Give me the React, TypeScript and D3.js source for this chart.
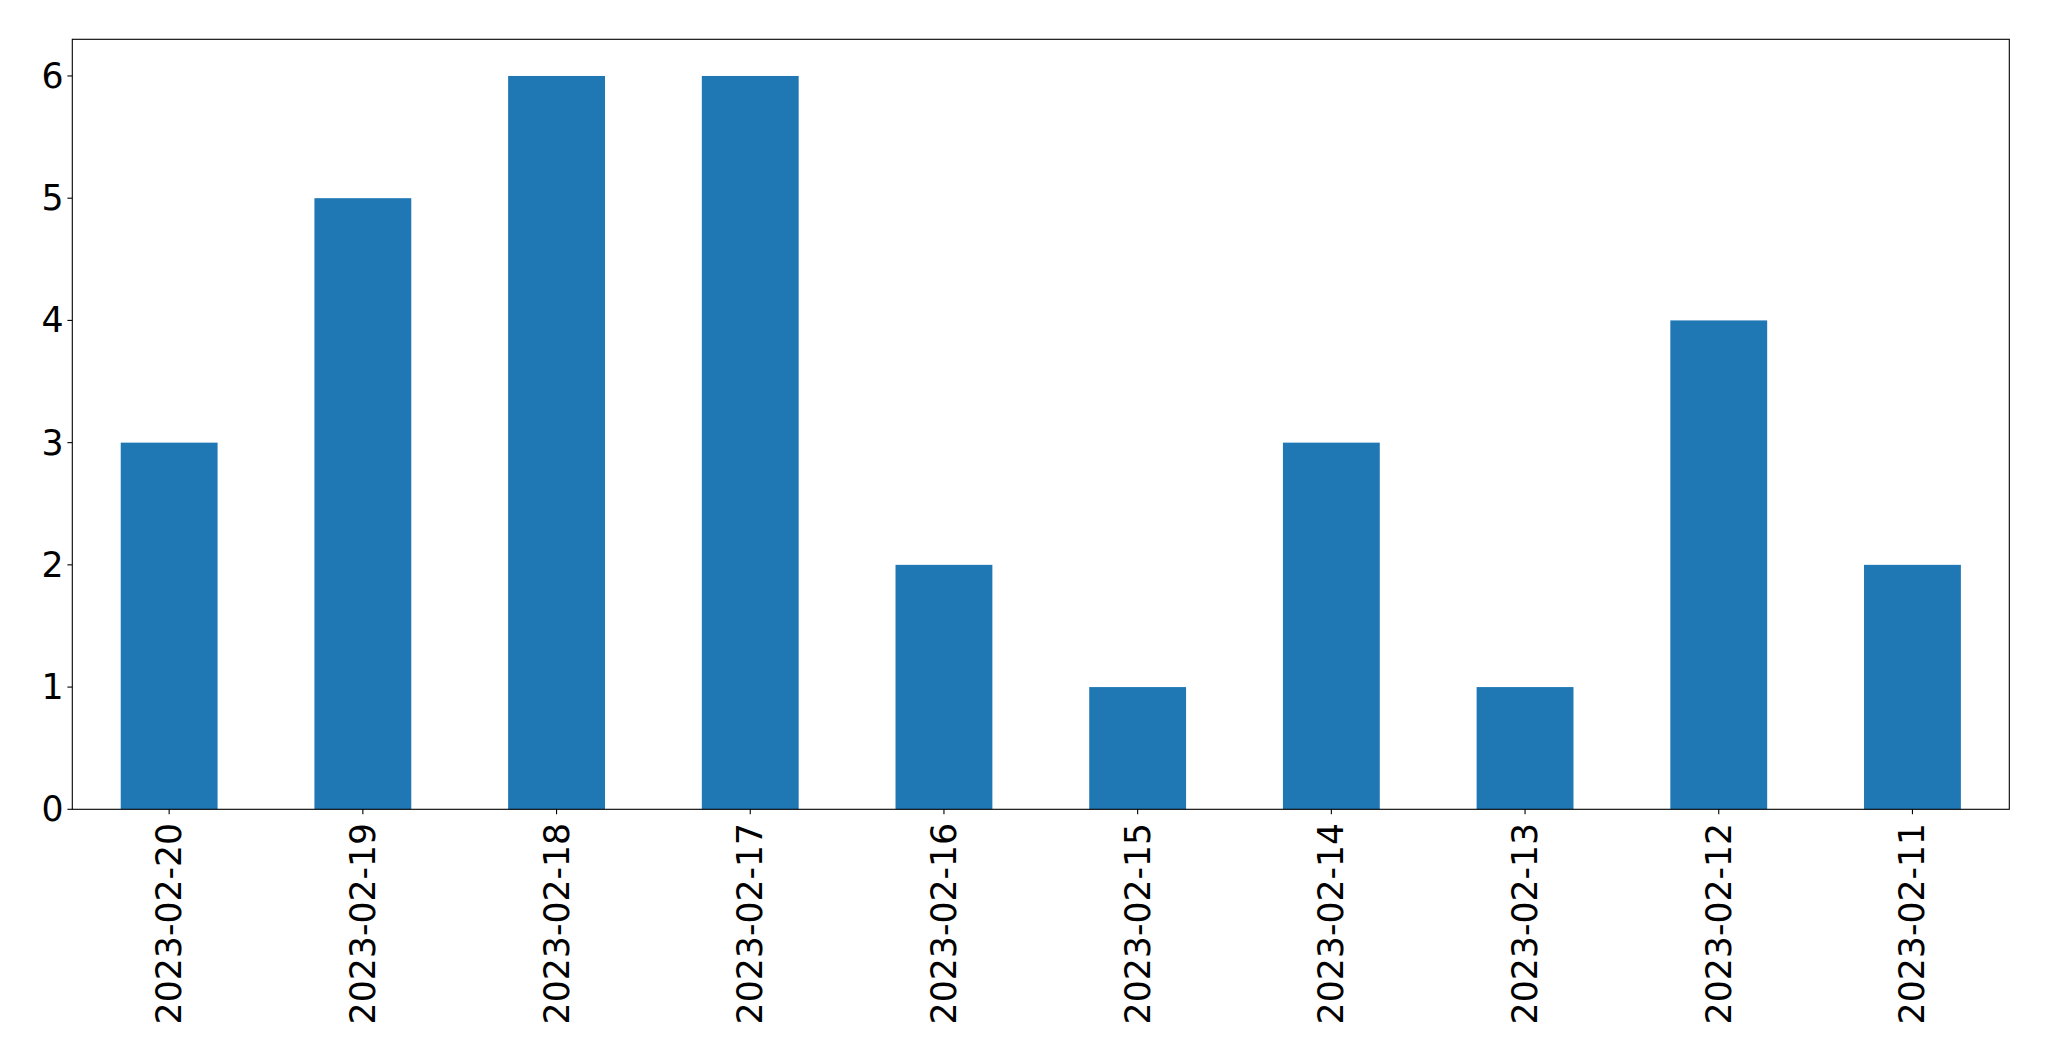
import React from "react";
import * as d3 from "d3";

const categories = ["2023-02-20","2023-02-19","2023-02-18","2023-02-17","2023-02-16","2023-02-15","2023-02-14","2023-02-13","2023-02-12","2023-02-11"];
const values = [3, 5, 6, 6, 2, 1, 3, 1, 4, 2];
const yTicks = [0, 1, 2, 3, 4, 5, 6];

const W = 2049, H = 1061;
const left = 72.3, right = 2009.3, top = 39.3, bottom = 809.3;
const FONT = "'DejaVu Sans', sans-serif";
const FS = 34.7;

export default function App() {
  const x = d3.scaleLinear().domain([-0.5, categories.length - 0.5]).range([left, right]);
  const y = d3.scaleLinear().domain([0, 6.3]).range([bottom, top]);
  const bw = x(0.25) - x(-0.25);
  return (
    <svg width={W} height={H} style={{ position: "absolute", left: 0, top: 0, background: "#fff" }}>
      {values.map((v, i) => (
        <rect key={i} x={x(i) - bw / 2} y={y(v)} width={bw} height={y(0) - y(v)} fill="#1f77b4" />
      ))}
      <rect x={left} y={top} width={right - left} height={bottom - top} fill="none" stroke="#000" strokeWidth={1.1} />
      {yTicks.map((t) => (
        <g key={t}>
          <line x1={left - 4.9} x2={left} y1={y(t)} y2={y(t)} stroke="#000" strokeWidth={1.1} />
          <text x={left - 8.8} y={y(t)} textAnchor="end" dominantBaseline="central" fontFamily={FONT} fontSize={FS} fill="#000">{t}</text>
        </g>
      ))}
      {categories.map((c, i) => (
        <g key={c}>
          <line x1={x(i)} x2={x(i)} y1={bottom} y2={bottom + 4.9} stroke="#000" strokeWidth={1.1} />
          <text transform={`translate(${x(i)},${bottom + 13.5}) rotate(-90)`} textAnchor="end" dominantBaseline="central" fontFamily={FONT} fontSize={FS} fill="#000">{c}</text>
        </g>
      ))}
    </svg>
  );
}
